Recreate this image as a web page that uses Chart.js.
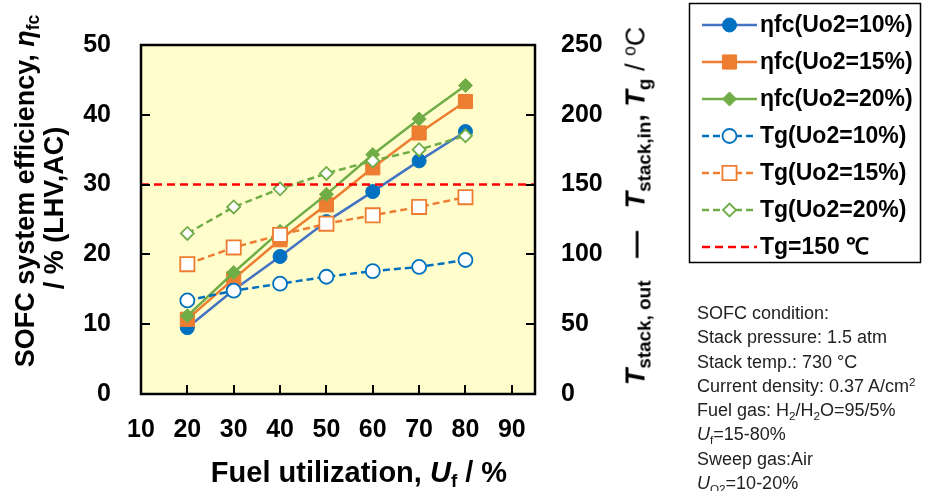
<!DOCTYPE html>
<html>
<head>
<meta charset="utf-8">
<script src="https://cdn.jsdelivr.net/npm/chart.js@4.4.1/dist/chart.umd.min.js"></script>
<style>
  html, body { margin: 0; padding: 0; background: #fff; }
  body { width: 926px; height: 491px; position: relative; overflow: hidden; font-family: 'Liberation Sans', Arial, sans-serif; }
  #chart { position: absolute; left: 0; top: 0; }
  .lbl { position: absolute; white-space: nowrap; font-weight: bold; color: #000; transform: translate(-50%, -50%); line-height: 1; }
  .rot { transform: translate(-50%, -50%) rotate(-90deg); }
  .sub { font-size: 0.65em; vertical-align: -0.3em; line-height: 0; }
  .sup { font-size: 0.65em; vertical-align: 0.5em; line-height: 0; }
  .note { position: absolute; left: 697px; top: 301px; font-size: 18px; line-height: 24.3px; color: #222; white-space: nowrap; }
</style>
</head>
<body>
<canvas id="chart" width="926" height="491"></canvas>

<div class="lbl rot" style="left:25px; top:191px; font-size:27px;">SOFC system efficiency, <i>η</i><span class="sub">fc</span></div>
<div class="lbl rot" style="left:54px; top:208px; font-size:27px;">/ % (LHV,AC)</div>
<div class="lbl rot" style="left:636px; top:206px; font-size:27px;"><i>T</i><span class="sub" style="font-size:0.7em">stack, out</span>&nbsp;&nbsp;&nbsp;—&nbsp;&nbsp;&nbsp;<i>T</i><span class="sub" style="font-size:0.7em">stack,in</span>, <i>T</i><span class="sub" style="font-size:0.7em">g</span><span style="font-weight:normal"> / <span class="sup">o</span>C</span></div>
<div class="lbl" style="left:359px; top:472px; font-size:29px;">Fuel utilization, <i>U</i><span class="sub">f</span> / %</div>

<div class="note">
SOFC condition:<br>
Stack pressure: 1.5 atm<br>
Stack temp.: 730 °C<br>
Current density: 0.37 A/cm<span class="sup">2</span><br>
Fuel gas: H<span class="sub">2</span>/H<span class="sub">2</span>O=95/5%<br>
<i>U</i><span class="sub">f</span>=15-80%<br>
Sweep gas:Air<br>
<i>U</i><span class="sub">O2</span>=10-20%
</div>

<script>
// 数据
const fuelUtil = [20, 30, 40, 50, 60, 70, 80];
const xTicks = [10, 20, 30, 40, 50, 60, 70, 80, 90];
const effTicks = [0, 10, 20, 30, 40, 50];
const tempTicks = [0, 50, 100, 150, 200, 250];

const effUo2_10 = [9.5, 14.9, 19.7, 24.7, 29.0, 33.4, 37.6];
const effUo2_15 = [10.7, 16.5, 22.1, 27.1, 32.4, 37.4, 41.9];
const effUo2_20 = [11.2, 17.4, 23.3, 28.6, 34.3, 39.4, 44.2];

const tgUo2_10 = [67, 74, 79, 84, 88, 91, 96];
const tgUo2_15 = [93, 105, 114, 122, 128, 134, 141];
const tgUo2_20 = [115, 134, 147, 158, 167, 175, 185];

const tgLimitX = [10, 95];
const tgLimit = [150, 150];

const legendLabels = [
    'ηfc(Uo2=10%)', 'ηfc(Uo2=15%)', 'ηfc(Uo2=20%)',
    'Tg(Uo2=10%)', 'Tg(Uo2=15%)', 'Tg(Uo2=20%)', 'Tg=150 ℃'
];

const BLUE = '#0070C0', BLUE_LINE = '#4472C4', ORANGE = '#ED7D31', GREEN = '#70AD47', RED = '#FF0000';

function pts(xs, ys) {
    return xs.map((x, i) => ({ x: x, y: ys[i] }));
}

const tickFont = { family: "'Liberation Sans', Arial, sans-serif", size: 25, weight: 'bold' };

// 背景、边框和内向刻度
const plotFrame = {
    id: 'plotFrame',
    beforeDatasetsDraw(chart) {
        const a = chart.chartArea, ctx = chart.ctx;
        ctx.save();
        ctx.fillStyle = '#FFFDCC';
        ctx.fillRect(a.left, a.top, a.right - a.left, a.bottom - a.top);
        ctx.restore();
    },
    afterDatasetsDraw(chart) {
        const a = chart.chartArea, ctx = chart.ctx;
        const sx = chart.scales.x, sy = chart.scales.y, sy1 = chart.scales.y1;
        ctx.save();
        ctx.strokeStyle = '#000';
        ctx.lineWidth = 2.5;
        ctx.setLineDash([]);
        ctx.strokeRect(a.left, a.top, a.right - a.left, a.bottom - a.top);
        ctx.lineWidth = 2;
        ctx.beginPath();
        effTicks.forEach(v => {
            const y = Math.round(sy.getPixelForValue(v));
            ctx.moveTo(a.left, y); ctx.lineTo(a.left + 9, y);
        });
        tempTicks.forEach(v => {
            const y = Math.round(sy1.getPixelForValue(v));
            ctx.moveTo(a.right, y); ctx.lineTo(a.right - 9, y);
        });
        xTicks.forEach(v => {
            const x = Math.round(sx.getPixelForValue(v));
            ctx.moveTo(x, a.bottom); ctx.lineTo(x, a.bottom - 9);
        });
        ctx.stroke();
        ctx.restore();
    }
};

// 图例
const boxLegend = {
    id: 'boxLegend',
    afterDraw(chart) {
        const ctx = chart.ctx;
        ctx.save();
        ctx.strokeStyle = '#000';
        ctx.lineWidth = 1.5;
        ctx.setLineDash([]);
        ctx.strokeRect(689.5, 3.5, 231, 259);

        chart.data.datasets.forEach((ds, i) => {
            const y = 25 + i * 37;
            ctx.strokeStyle = ds.borderColor;
            ctx.lineWidth = ds.borderWidth;
            ctx.setLineDash(ds.borderDash || []);
            ctx.beginPath();
            ctx.moveTo(702, y); ctx.lineTo(757, y);
            ctx.stroke();
            if (ds.pointRadius > 0) {
                ctx.setLineDash([]);
                ctx.fillStyle = ds.pointBackgroundColor;
                ctx.strokeStyle = ds.pointBorderColor;
                ctx.lineWidth = ds.pointBorderWidth;
                Chart.helpers.drawPoint(ctx, {
                    pointStyle: ds.pointStyle, radius: ds.pointRadius,
                    borderWidth: ds.pointBorderWidth, rotation: 0
                }, 729.5, y);
            }
            ctx.fillStyle = '#000';
            ctx.font = "bold 23px 'Liberation Sans', Arial, sans-serif";
            ctx.textAlign = 'left';
            ctx.textBaseline = 'middle';
            ctx.fillText(legendLabels[i], 760, y + 1);
        });
        ctx.restore();
    }
};

function solid(data, color, markerColor, style, radius, order) {
    return {
        data: data, yAxisID: 'y', order: order,
        borderColor: color, borderWidth: 2.5, borderDash: [],
        pointStyle: style, pointRadius: radius, pointHoverRadius: radius,
        pointBackgroundColor: markerColor, pointBorderColor: markerColor, pointBorderWidth: 1
    };
}

function dashed(data, color, style, radius, order) {
    return {
        data: data, yAxisID: 'y1', order: order,
        borderColor: color, borderWidth: 2.5, borderDash: [7, 4],
        pointStyle: style, pointRadius: radius, pointHoverRadius: radius,
        pointBackgroundColor: '#fff', pointBorderColor: color, pointBorderWidth: 1.8
    };
}

const datasets = [
    solid(pts(fuelUtil, effUo2_10), BLUE_LINE, BLUE, 'circle', 7, 7),
    solid(pts(fuelUtil, effUo2_15), ORANGE, ORANGE, 'rect', 10, 6),
    solid(pts(fuelUtil, effUo2_20), GREEN, GREEN, 'rectRot', 7, 5),
    dashed(pts(fuelUtil, tgUo2_10), BLUE, 'circle', 7, 4),
    dashed(pts(fuelUtil, tgUo2_15), ORANGE, 'rect', 10, 3),
    dashed(pts(fuelUtil, tgUo2_20), GREEN, 'rectRot', 6.5, 2),
    {
        data: pts(tgLimitX, tgLimit), yAxisID: 'y1', order: 1,
        borderColor: RED, borderWidth: 2.5, borderDash: [8, 5],
        pointRadius: 0, pointHoverRadius: 0
    }
];
datasets.forEach((d, i) => { d.label = legendLabels[i]; d.fill = false; d.tension = 0; });

new Chart(document.getElementById('chart'), {
    type: 'line',
    data: { datasets: datasets },
    options: {
        responsive: false,
        animation: false,
        layout: { padding: { left: 0, right: 301, top: 22, bottom: 0 } },
        plugins: {
            legend: { display: false },
            tooltip: { enabled: false }
        },
        scales: {
            x: {
                type: 'linear', min: 10, max: 95,
                afterBuildTicks: s => { s.ticks = xTicks.map(v => ({ value: v })); },
                afterFit: s => { s.height = 97; },
                grid: { display: false, drawTicks: false },
                border: { display: false },
                ticks: { font: tickFont, color: '#000', padding: 21, maxRotation: 0, autoSkip: false }
            },
            y: {
                position: 'left', min: 0, max: 50,
                afterBuildTicks: s => { s.ticks = effTicks.map(v => ({ value: v })); },
                afterFit: s => { s.width = 141; },
                grid: { display: false, drawTicks: false },
                border: { display: false },
                ticks: { font: tickFont, color: '#000', padding: 30 }
            },
            y1: {
                position: 'right', min: 0, max: 250,
                afterBuildTicks: s => { s.ticks = tempTicks.map(v => ({ value: v })); },
                afterFit: s => { s.width = 90; },
                grid: { display: false, drawTicks: false },
                border: { display: false },
                ticks: { font: tickFont, color: '#000', padding: 26 }
            }
        }
    },
    plugins: [plotFrame, boxLegend]
});
</script>
</body>
</html>
